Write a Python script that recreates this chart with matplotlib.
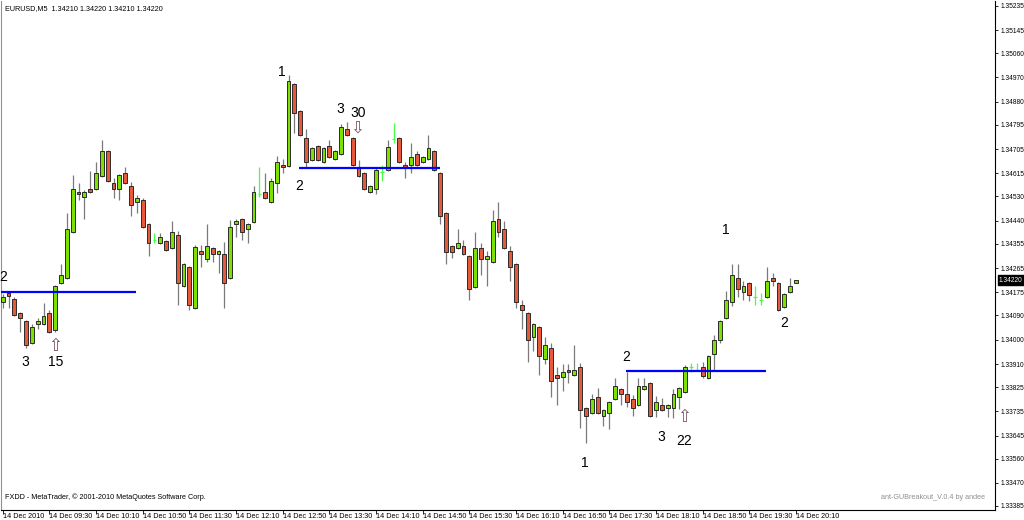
import matplotlib
matplotlib.use("Agg")
import matplotlib.pyplot as plt
import matplotlib.transforms as mtransforms

# EURUSD M5 candles, 14 Dec 2010, 08:50 -> 20:10
opens = [1.34140, 1.34173, 1.34151, 1.34099, 1.34069, 1.33988, 1.34058, 1.34058, 1.34099, 1.34036,
         1.34210, 1.34228, 1.34399, 1.34547, 1.34528, 1.34558, 1.34558, 1.34606, 1.34698, 1.34580,
         1.34558, 1.34617, 1.34569, 1.34510, 1.34517, 1.34428, 1.34369, 1.34358, 1.34365, 1.34339,
         1.34388, 1.34199, 1.34269, 1.34117, 1.34328, 1.34299, 1.34339, 1.34317, 1.34317, 1.34228,
         1.34428, 1.34447, 1.34410, 1.34436, 1.34539, 1.34547, 1.34510, 1.34580, 1.34646, 1.34643,
         1.34946, 1.34846, 1.34746, 1.34665, 1.34717, 1.34658, 1.34717, 1.34669, 1.34687, 1.34780,
         1.34746, 1.34639, 1.34617, 1.34547, 1.34558, 1.34621, 1.34628, 1.34743, 1.34746, 1.34646,
         1.34646, 1.34687, 1.34658, 1.34669, 1.34698, 1.34617, 1.34469, 1.34347, 1.34339, 1.34347,
         1.34310, 1.34195, 1.34339, 1.34299, 1.34288, 1.34447, 1.34410, 1.34328, 1.34280, 1.34129,
         1.34099, 1.34010, 1.34047, 1.33929, 1.33969, 1.33870, 1.33862, 1.33888, 1.33870, 1.33899,
         1.33747, 1.33729, 1.33788, 1.33718, 1.33729, 1.33781, 1.33818, 1.33799, 1.33781, 1.33759,
         1.33818, 1.33840, 1.33740, 1.33759, 1.33747, 1.33747, 1.33788, 1.33807, 1.33899, 1.33888,
         1.33899, 1.33858, 1.33947, 1.33999, 1.34080, 1.34140, 1.34228, 1.34177, 1.34210, 1.34158,
         1.34147, 1.34158, 1.34228, 1.34210, 1.34121, 1.34177, 1.34210]
highs = [1.34169, 1.34180, 1.34158, 1.34103, 1.34073, 1.34058, 1.34080, 1.34136, 1.34110, 1.34203,
         1.34280, 1.34469, 1.34610, 1.34580, 1.34554, 1.34624, 1.34658, 1.34739, 1.34702, 1.34598,
         1.34613, 1.34639, 1.34584, 1.34536, 1.34524, 1.34432, 1.34395, 1.34395, 1.34369, 1.34439,
         1.34402, 1.34284, 1.34273, 1.34351, 1.34351, 1.34428, 1.34343, 1.34332, 1.34362, 1.34443,
         1.34447, 1.34450, 1.34432, 1.34569, 1.34639, 1.34617, 1.34598, 1.34680, 1.34669, 1.34980,
         1.34950, 1.34850, 1.34780, 1.34713, 1.34720, 1.34713, 1.34739, 1.34702, 1.34798, 1.34806,
         1.34750, 1.34665, 1.34621, 1.34572, 1.34639, 1.34646, 1.34739, 1.34802, 1.34750, 1.34658,
         1.34728, 1.34698, 1.34680, 1.34758, 1.34702, 1.34621, 1.34473, 1.34351, 1.34410, 1.34369,
         1.34314, 1.34399, 1.34358, 1.34328, 1.34480, 1.34510, 1.34439, 1.34347, 1.34284, 1.34147,
         1.34103, 1.34062, 1.34051, 1.34010, 1.33988, 1.33899, 1.33910, 1.33910, 1.33981, 1.33914,
         1.33751, 1.33799, 1.33821, 1.33744, 1.33773, 1.33858, 1.33821, 1.33881, 1.33796, 1.33858,
         1.33858, 1.33844, 1.33792, 1.33784, 1.33762, 1.33818, 1.33825, 1.33907, 1.33914, 1.33914,
         1.33918, 1.33944, 1.34018, 1.34073, 1.34180, 1.34280, 1.34280, 1.34217, 1.34214, 1.34199,
         1.34173, 1.34269, 1.34247, 1.34214, 1.34173, 1.34228, 1.34220]
lows = [1.34117, 1.34117, 1.34088, 1.34029, 1.33969, 1.33984, 1.34040, 1.34055, 1.34025, 1.34029,
        1.34206, 1.34225, 1.34395, 1.34517, 1.34447, 1.34543, 1.34554, 1.34602, 1.34584, 1.34524,
        1.34517, 1.34576, 1.34458, 1.34469, 1.34413, 1.34310, 1.34358, 1.34354, 1.34328, 1.34336,
        1.34129, 1.34195, 1.34110, 1.34114, 1.34269, 1.34288, 1.34288, 1.34247, 1.34117, 1.34225,
        1.34380, 1.34369, 1.34358, 1.34432, 1.34528, 1.34521, 1.34506, 1.34543, 1.34617, 1.34639,
        1.34765, 1.34754, 1.34639, 1.34661, 1.34661, 1.34654, 1.34672, 1.34665, 1.34684, 1.34754,
        1.34643, 1.34602, 1.34554, 1.34543, 1.34539, 1.34587, 1.34624, 1.34728, 1.34654, 1.34598,
        1.34617, 1.34643, 1.34654, 1.34665, 1.34624, 1.34428, 1.34280, 1.34302, 1.34336, 1.34314,
        1.34147, 1.34191, 1.34240, 1.34199, 1.34284, 1.34380, 1.34336, 1.34217, 1.34117, 1.34040,
        1.33918, 1.33958, 1.33870, 1.33910, 1.33788, 1.33759, 1.33810, 1.33840, 1.33866, 1.33673,
        1.33618, 1.33725, 1.33725, 1.33681, 1.33670, 1.33777, 1.33759, 1.33751, 1.33718, 1.33755,
        1.33814, 1.33714, 1.33714, 1.33736, 1.33714, 1.33710, 1.33744, 1.33803, 1.33881, 1.33884,
        1.33858, 1.33855, 1.33888, 1.33988, 1.34077, 1.34125, 1.34158, 1.34147, 1.34143, 1.34129,
        1.34129, 1.34154, 1.34199, 1.34106, 1.34117, 1.34173, 1.34210]
closes = [1.34158, 1.34162, 1.34092, 1.34080, 1.33981, 1.34047, 1.34069, 1.34088, 1.34029, 1.34199,
          1.34240, 1.34410, 1.34558, 1.34539, 1.34547, 1.34547, 1.34617, 1.34698, 1.34587, 1.34558,
          1.34610, 1.34580, 1.34499, 1.34524, 1.34417, 1.34358, 1.34369, 1.34380, 1.34332, 1.34399,
          1.34210, 1.34280, 1.34129, 1.34343, 1.34317, 1.34347, 1.34317, 1.34328, 1.34210, 1.34417,
          1.34439, 1.34399, 1.34428, 1.34547, 1.34539, 1.34524, 1.34587, 1.34658, 1.34639, 1.34957,
          1.34839, 1.34758, 1.34658, 1.34709, 1.34665, 1.34709, 1.34676, 1.34698, 1.34787, 1.34758,
          1.34646, 1.34606, 1.34558, 1.34569, 1.34628, 1.34621, 1.34713, 1.34743, 1.34658, 1.34639,
          1.34676, 1.34646, 1.34676, 1.34709, 1.34628, 1.34458, 1.34325, 1.34325, 1.34358, 1.34317,
          1.34188, 1.34339, 1.34299, 1.34310, 1.34439, 1.34399, 1.34339, 1.34269, 1.34140, 1.34110,
          1.33999, 1.34058, 1.33940, 1.33981, 1.33847, 1.33858, 1.33881, 1.33881, 1.33888, 1.33740,
          1.33718, 1.33781, 1.33729, 1.33740, 1.33770, 1.33829, 1.33799, 1.33770, 1.33747, 1.33829,
          1.33829, 1.33718, 1.33770, 1.33740, 1.33759, 1.33799, 1.33821, 1.33899, 1.33899, 1.33888,
          1.33866, 1.33940, 1.33999, 1.34069, 1.34147, 1.34240, 1.34188, 1.34199, 1.34166, 1.34158,
          1.34147, 1.34217, 1.34217, 1.34110, 1.34169, 1.34199, 1.34220]

time_labels = ["14 Dec 2010", "14 Dec 09:30", "14 Dec 10:10", "14 Dec 10:50", "14 Dec 11:30",
               "14 Dec 12:10", "14 Dec 12:50", "14 Dec 13:30", "14 Dec 14:10", "14 Dec 14:50",
               "14 Dec 15:30", "14 Dec 16:10", "14 Dec 16:50", "14 Dec 17:30", "14 Dec 18:10",
               "14 Dec 18:50", "14 Dec 19:30", "14 Dec 20:10"]
price_ticks = [1.35235, 1.35145, 1.35060, 1.34970, 1.34880, 1.34795, 1.34705, 1.34615, 1.34530,
               1.34440, 1.34355, 1.34265, 1.34175, 1.34090, 1.34000, 1.33910, 1.33825, 1.33735,
               1.33645, 1.33560, 1.33470, 1.33385]

# breakout levels: start bar, end bar, price
level_start = [-1.0, 50.8, 106.9]
level_end = [22.85, 75.0, 130.9]
level_price = [1.34175, 1.34635, 1.33884]

# wave counts and signal arrows
count_bar = [0.0, 3.8, 9.0, 47.9, 57.9, 60.9, 50.8, 106.9, 112.9, 116.8, 99.8, 124.0, 133.9]
count_price = [1.34232, 1.33918, 1.33918, 1.34991, 1.34854, 1.34839, 1.34569, 1.33936,
               1.33640, 1.33625, 1.33544, 1.34406, 1.34062]
count_text = ["2", "3", "15", "1", "3", "30", "2", "2", "3", "22", "1", "1", "2"]
arrow_bar = [9.0, 60.7, 116.8]
arrow_price = [1.33977, 1.34783, 1.33714]
arrow_text = ["⇧", "⇩", "⇧"]

last_price = 1.34220

bull = "#7ee000"
bear = "#e8583a"
doji = "#44ff44"
edge = "#2b2b2b"
wick = "#7a7a7a"

fig = plt.figure(figsize=(10.24, 5.2), dpi=100)
ax = fig.add_axes([1 / 1024, 10 / 520, 994 / 1024, 509 / 520])

x = list(range(len(opens)))
for i in x:
    o, h, l, c = opens[i], highs[i], lows[i], closes[i]
    if o == c:
        ax.vlines(i, l, h, color=doji, lw=0.9, zorder=2)
        ax.hlines(c, i - 0.3, i + 0.3, color=doji, lw=0.9, zorder=2)
        continue
    ax.vlines(i, l, h, color=wick, lw=0.9, zorder=1)
    lo, hi = min(o, c), max(o, c)
    ax.bar(i, max(hi - lo, 0.00005), bottom=lo, width=0.66,
           color=bull if c > o else bear, edgecolor=edge, linewidth=0.7, zorder=3)

for s, e, p in zip(level_start, level_end, level_price):
    ax.hlines(p, s, e, color="#0000ff", lw=1.6, zorder=4)

for b, p, t in zip(count_bar, count_price, count_text):
    ax.text(b, p, t, fontsize=10, family="Liberation Sans", ha="center", va="center",
            color="black", zorder=5)
for b, p, t in zip(arrow_bar, arrow_price, arrow_text):
    ax.text(b, p, t, fontsize=12, family="DejaVu Sans", ha="center", va="center",
            color="#7b4f66", zorder=5)

ax.set_xlim(-0.29, 170.12)
ax.set_ylim(1.33370, 1.35253)

small = "Liberation Sans"
fs = 5.2
yfs = 4.8
ax.set_xticks(range(0, len(opens), 8))
ax.set_xticklabels(time_labels, family=small, fontsize=fs, ha="left")
ax.yaxis.tick_right()
ax.set_yticks(price_ticks)
ax.set_yticklabels([f"{v:.5f}" for v in price_ticks], family=small, fontsize=yfs)
ax.tick_params(axis="y", length=2.5, pad=1.2, width=0.6)
ax.tick_params(axis="x", length=3, pad=-1, width=0.6)

ax.spines["top"].set_visible(False)
ax.spines["left"].set_color("#909090")
ax.spines["left"].set_linewidth(0.8)
ax.spines["right"].set_linewidth(0.8)
ax.spines["bottom"].set_linewidth(0.8)

trans = mtransforms.blended_transform_factory(ax.transAxes, ax.transData)
ax.text(1.004, last_price, f"{last_price:.5f}", transform=trans, ha="left", va="center",
        family=small, fontsize=yfs, color="white",
        bbox=dict(boxstyle="square,pad=0.2", fc="black", ec="black"), zorder=6,
        clip_on=False)

ax.text(0.004, 0.985, "EURUSD,M5  1.34210 1.34220 1.34210 1.34220", transform=ax.transAxes,
        family=small, fontsize=fs, ha="left", va="center")
ax.text(0.004, 0.025, "FXDD - MetaTrader, © 2001-2010 MetaQuotes Software Corp.",
        transform=ax.transAxes, family=small, fontsize=fs, ha="left", va="center")
ax.text(0.99, 0.025, "ant-GUBreakout_V.0.4 by andee", transform=ax.transAxes,
        family=small, fontsize=fs, ha="right", va="center", color="#909090")

fig.savefig("out.png", dpi=100)
